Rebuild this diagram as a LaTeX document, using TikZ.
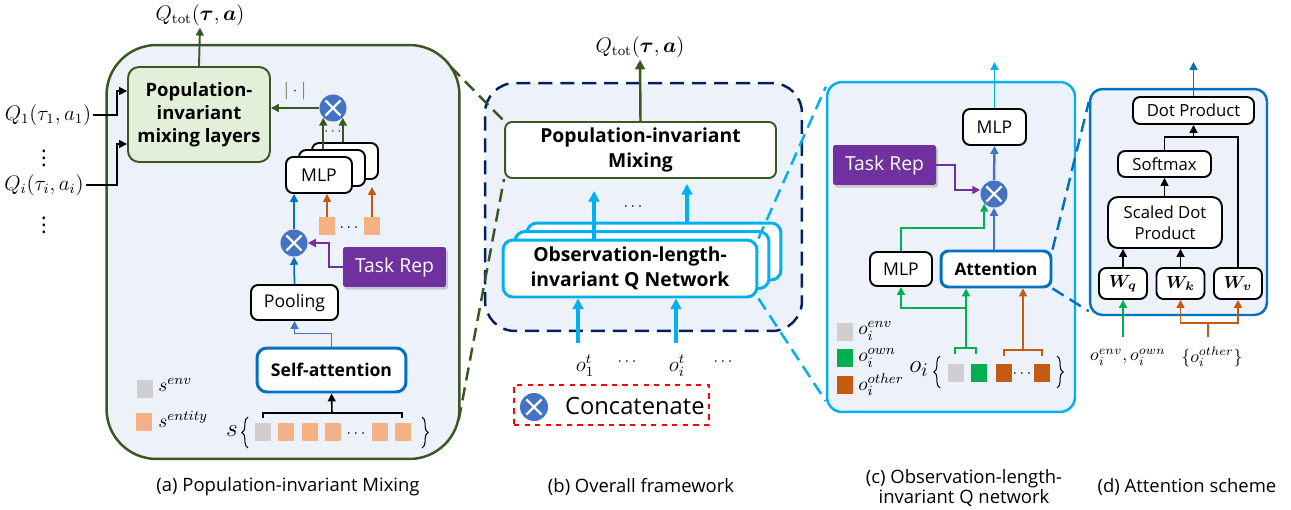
\documentclass[tikz,border=0pt]{standalone}
\usepackage[no-math]{fontspec}
\setmainfont{Open Sans}
\usepackage{bm}
\usetikzlibrary{arrows.meta,shadows,decorations.pathreplacing}
\definecolor{panelbg}{RGB}{237,241,249}
\definecolor{mixgreen}{RGB}{56,87,35}
\definecolor{mixfill}{RGB}{226,240,217}
\definecolor{navy}{RGB}{0,32,96}
\definecolor{cyanline}{RGB}{0,176,240}
\definecolor{deepblue}{RGB}{0,112,192}
\definecolor{catblue}{RGB}{68,114,196}
\definecolor{taskpurple}{RGB}{112,48,160}
\definecolor{paleorange}{RGB}{244,177,131}
\definecolor{darkorange}{RGB}{197,90,17}
\definecolor{envgray}{RGB}{208,206,206}
\definecolor{owngreen}{RGB}{0,176,80}
\tikzset{
  panel/.style={line width=1.4pt, fill=panelbg},
  box/.style={draw=black, line width=1.1pt, rounded corners=4pt, fill=white, align=center, inner sep=0pt},
  box-bold/.style={box, font=\bfseries\fontsize{10.5}{13}\selectfont},
  qnet-box/.style={box, draw=cyanline, line width=1.7pt, rounded corners=0.2cm, minimum width=5.08cm, minimum height=1.14cm},
  cat-node/.style={circle, fill=catblue, minimum size=0.54cm, inner sep=0pt,
    path picture={
      \draw[white, line width=1.3pt]
        ([shift={(-4.3pt,-4.3pt)}]path picture bounding box.center) -- ([shift={(4.3pt,4.3pt)}]path picture bounding box.center)
        ([shift={(-4.3pt,4.3pt)}]path picture bounding box.center) -- ([shift={(4.3pt,-4.3pt)}]path picture bounding box.center);
    }},
  task-node/.style={fill=taskpurple, text=white, minimum width=2.06cm, minimum height=0.8cm, rounded corners=1pt,
    font=\fontsize{11}{13}\selectfont, drop shadow={shadow xshift=1pt, shadow yshift=-1.5pt, opacity=0.35}},
  sq/.style={minimum width=0.32cm, minimum height=0.36cm, inner sep=0pt},
  lbl/.style={inner sep=1pt},
  legend-lbl/.style={lbl, anchor=west, inner sep=0pt, font=\fontsize{11}{13}\selectfont},
  arrow-tip/.style={-{Triangle[length=4.5pt,width=4.5pt]}},
  line-black/.style={draw=black, line width=0.9pt},
  arr-black/.style={arrow-tip, line-black},
  arr-green/.style={arrow-tip, draw=mixgreen, line width=1.1pt},
  arr-green-thick/.style={-{Triangle[length=5.5pt,width=5.5pt]}, draw=mixgreen, line width=1.4pt},
  line-orange/.style={draw=darkorange, line width=0.9pt},
  arr-orange/.style={arrow-tip, line-orange},
  arr-blue/.style={arrow-tip, draw=deepblue, line width=1pt},
  arr-blue-thin/.style={arrow-tip, draw=catblue, line width=1pt},
  arr-purple/.style={arrow-tip, draw=taskpurple, line width=1.1pt},
  arr-cyan/.style={-{Triangle[length=6pt,width=6pt]}, draw=cyanline, line width=2pt},
  arr-cyan-thin/.style={arrow-tip, draw=cyanline, line width=1.1pt},
  arr-catblue/.style={arrow-tip, draw=catblue, line width=1.4pt},
  arr-own/.style={arrow-tip, draw=owngreen, line width=0.9pt},
  zoom-line/.style={line width=1.4pt, dash pattern=on 7.5pt off 4pt},
  brace-line/.style={decorate, decoration={brace, amplitude=3.5pt}, line width=0.6pt},
  cap-text/.style={font=\fontsize{10.5}{11.5}\selectfont, align=center}
}

\begin{document}
\begin{tikzpicture}[x=0.02cm, y=-0.02cm, font=\fontsize{10}{12}\selectfont]
  \useasboundingbox (0,0) rectangle (1291,510);
  % Panel frames
  \node[panel, draw=mixgreen, rounded corners=1cm, minimum width=7.06cm, minimum height=8.28cm] (frame-a) at (283,252) {};
  \node[panel, draw=navy, dash pattern=on 8pt off 4.5pt, rounded corners=0.6cm, minimum width=6.34cm, minimum height=4.96cm] (frame-b) at (643.5,207) {};
  \node[panel, draw=cyanline, rounded corners=0.3cm, minimum width=4.96cm, minimum height=6.6cm] (frame-c) at (951,247) {};
  \node[panel, draw=deepblue, rounded corners=0.25cm, minimum width=3.54cm, minimum height=4.52cm] (frame-d) at (1178.5,202) {};

  % (a) Population-invariant mixing
  \node[box-bold, draw=mixgreen, fill=mixfill, rounded corners=0.22cm, minimum width=2.84cm, minimum height=1.9cm] (mix-a) at (199,114.5) {Population-\\invariant\\mixing layers};
  \node[lbl, font=\large] (qtot-a) at (200,15) {$Q_{\mathrm{tot}}(\bm{\tau},\bm{a})$};
  \draw[arr-green] (mix-a.north) -- (qtot-a.south);
  \node[lbl, font=\large] (q1-a) at (48,115) {$Q_1(\tau_1,a_1)$};
  \node[lbl, font=\large] (qi-a) at (44,185) {$Q_i(\tau_i,a_i)$};
  \node[lbl, font=\large] (vdots-a1) at (44,153) {$\vdots$};
  \node[lbl, font=\large] (vdots-a2) at (44,220) {$\vdots$};
  \coordinate (bend-a) at (117,0);
  \draw[arr-black] (q1-a.east) -- (q1-a.east -| bend-a) |- ([shift={(0,-23.5)}]mix-a.west);
  \draw[arr-black] (qi-a.east) -- (qi-a.east -| bend-a) |- ([shift={(0,29.5)}]mix-a.west);
  \node[cat-node] (cat-a1) at (333,108) {};
  \draw[arr-green] (cat-a1.west) -- (cat-a1.west -| mix-a.east) node[midway, above=1pt, text=mixgreen] {$|\cdot|$};
  % MLP stack
  \foreach \k in {2,1} {
    \node[box, minimum width=1.32cm, minimum height=0.72cm] (mlp-a-\k) at ([shift={(13*\k,-7*\k)}]319,175) {};
  }
  \node[box, minimum width=1.32cm, minimum height=0.72cm] (mlp-a) at (319,175) {MLP};
  \draw[arr-green] (cat-a1.south west |- mlp-a-1.north) -- (cat-a1.south west);
  \draw[arr-green] (cat-a1.south east |- mlp-a-2.north) -- (cat-a1.south east);
  \node[lbl, font=\scriptsize] (dots-a1) at (333,132) {$\cdots$};
  \node[sq, fill=paleorange] (ent-a1) at (327,226) {};
  \node[sq, fill=paleorange] (ent-a2) at (372,226) {};
  \node[lbl, font=\small] (dots-a2) at (349,228) {$\cdots$};
  \draw[arr-orange] (ent-a1.north) -- (ent-a1.north |- mlp-a.south);
  \draw[arr-orange] (ent-a2.north) -- (ent-a2.north |- mlp-a-1.south);
  \node[cat-node] (cat-a2) at (294,243) {};
  \draw[arr-blue] (cat-a2.north) -- (cat-a2.north |- mlp-a.south);
  \node[task-node] (task-a) at (394.5,267) {Task Rep};
  \draw[arr-purple] (task-a.west) -- ++(-14,0) |- (cat-a2.east);
  \node[box, minimum width=1.74cm, minimum height=0.7cm] (pool-a) at (294.5,302.5) {Pooling};
  \draw[arr-blue] (pool-a.north) -- (cat-a2.south);
  \node[box-bold, draw=deepblue, line width=1.7pt, rounded corners=0.2cm, minimum width=2.98cm, minimum height=0.88cm, font=\bfseries\fontsize{10}{12}\selectfont] (att-a) at (331.5,370) {Self-attention};
  \draw[arr-blue-thin] (att-a.north) -- ++(0,-13) -| (pool-a.south);
  % Entity row
  \coordinate (brace-a) at (332,413);
  \draw[line width=0.6pt] (263,418) -- (263,413) -- (402,413) -- (402,418);
  \draw[arr-black] (brace-a) -- (att-a.south);
  \node[sq, fill=envgray] (row-a0) at (263,432) {};
  \foreach \x [count=\n] in {286,310,333,380,403} {
    \node[sq, fill=paleorange] (row-a\n) at (\x,432) {};
  }
  \node[lbl, font=\small] (dots-a3) at (356,434) {$\cdots$};
  \node[lbl, font=\Large] (s-a) at (232,431) {$s$};
  \draw[brace-line] (248,448) -- (248,417);
  \draw[brace-line] (422,417) -- (422,448);
  % Legend
  \node[sq, fill=envgray] (env-a) at (145,389) {};
  \node[legend-lbl] (env-a-lbl) at (158,385) {$s^{env}$};
  \node[sq, fill=paleorange] (ent-a) at (144,422) {};
  \node[legend-lbl] (ent-a-lbl) at (158,419) {$s^{entity}$};
  \node[cap-text] (cap-a) at (288,487) {(a) Population-invariant Mixing};

  % (b) Overall framework
  \node[box-bold, draw=mixgreen, minimum width=5.42cm, minimum height=1.12cm, font=\bfseries\fontsize{11}{14}\selectfont] (mix-b) at (640.5,150) {Population-invariant\\Mixing};
  \node[lbl, font=\large] (qtot-b) at (640,47) {$Q_{\mathrm{tot}}(\bm{\tau},\bm{a})$};
  \draw[arr-green-thick] (mix-b.north) -- (qtot-b.south);
  \foreach \k in {2,1} {
    \node[qnet-box] (qnet-b-\k) at ([shift={(12*\k,-8.5*\k)}]630,268.5) {};
  }
  \node[qnet-box, font=\bfseries\fontsize{11}{14}\selectfont] (qnet-b) at (630,268.5) {Observation-length-\\invariant Q Network};
  \coordinate (up-b1) at (594,0);
  \coordinate (up-b2) at (687,0);
  \draw[arr-cyan, shorten >=0.24cm] (up-b1 |- qnet-b.north) -- (up-b1 |- mix-b.south);
  \draw[arr-cyan, shorten >=0.1cm] (up-b2 |- qnet-b-2.north) -- (up-b2 |- mix-b.south);
  \node[lbl, font=\small] (dots-b1) at (633,207) {$\cdots$};
  \node[lbl, font=\large] (o1-b) at (585,366) {$o_1^t$};
  \node[lbl, font=\small] (dots-b2) at (627,362) {$\cdots$};
  \node[lbl, font=\large] (oi-b) at (677,366) {$o_i^t$};
  \node[lbl, font=\small] (dots-b3) at (723,362) {$\cdots$};
  \coordinate (in-b1) at (578,343);
  \coordinate (in-b2) at (676,343);
  \draw[arr-cyan] (in-b1) -- (in-b1 |- qnet-b.south);
  \draw[arr-cyan] (in-b2) -- (in-b2 |- qnet-b.south);
  % Legend
  \node[draw=red, dashed, line width=0.8pt, minimum width=3.9cm, minimum height=0.8cm] (legend-b) at (611.5,405) {};
  \node[cat-node, minimum size=0.56cm] (cat-b) at (534,407) {};
  \node[lbl, anchor=west, font=\fontsize{13.5}{16}\selectfont] (cat-b-lbl) at (563,406) {Concatenate};
  \node[cap-text] (cap-b) at (641,487) {(b) Overall framework};

  % (c) Observation-length-invariant Q network
  \node[box, minimum width=1.26cm, minimum height=0.72cm] (mlp-c1) at (994.5,127) {MLP};
  \coordinate (out-c) at (994.5,62);
  \draw[arr-cyan-thin] (mlp-c1.north) -- (out-c);
  \node[cat-node] (cat-c) at (994,194) {};
  \draw[arr-catblue] (cat-c.north) -- (mlp-c1.south);
  \node[task-node] (task-c) at (884.5,165) {Task Rep};
  \draw[arr-purple] (task-c.east) -- ++(19,0) |- ([shift={(0,-4)}]cat-c.west);
  \node[box, minimum width=1.24cm, minimum height=0.68cm] (mlp-c2) at (901,269) {MLP};
  \node[box-bold, draw=deepblue, line width=1.7pt, rounded corners=0.15cm, minimum width=2.2cm, minimum height=0.72cm, font=\bfseries\fontsize{9.8}{12}\selectfont] (att-c) at (996,269) {Attention};
  \draw[arr-own] (mlp-c2.north) -- ++(0,-23) -| (cat-c.south west);
  \draw[arr-catblue] (cat-c.south |- att-c.north) -- (cat-c.south);
  \draw[line width=0.6pt, draw=owngreen] (955,354) -- (955,348) -- (976,348) -- (976,354);
  \draw[line width=0.6pt, draw=darkorange] (1004,356) -- (1004,350) -- (1042,350) -- (1042,356);
  \coordinate (own-c) at (966,348);
  \coordinate (oth-c) at (1023,350);
  \draw[arr-own] (own-c) -- ++(0,-40) -| (mlp-c2.south);
  \draw[arr-own] (own-c) -- (own-c |- att-c.south);
  \draw[arr-orange] (oth-c) -- (oth-c |- att-c.south);
  \node[sq, fill=envgray] (row-c1) at (956,372.5) {};
  \node[sq, fill=owngreen] (row-c2) at (979,372.5) {};
  \node[sq, fill=darkorange] (row-c3) at (1004,372.5) {};
  \node[lbl, font=\small] (dots-c) at (1022,374) {$\cdots$};
  \node[sq, fill=darkorange] (row-c4) at (1042,372.5) {};
  \node[lbl, font=\fontsize{15}{18}\selectfont] (oi-c) at (919,369) {$o_i$};
  \draw[brace-line] (940,388) -- (940,356);
  \draw[brace-line] (1057,356) -- (1057,388);
  % Legend
  \node[sq, fill=envgray] (env-c) at (845,332) {};
  \node[legend-lbl] (env-c-lbl) at (858,331) {$o_i^{env}$};
  \node[sq, fill=owngreen] (own-c-sq) at (845,358) {};
  \node[legend-lbl] (own-c-lbl) at (858,358) {$o_i^{own}$};
  \node[sq, fill=darkorange] (oth-c-sq) at (845,385) {};
  \node[legend-lbl] (oth-c-lbl) at (858,385) {$o_i^{other}$};
  \node[cap-text] (cap-c) at (964,488) {(c) Observation-length-\\invariant Q network};

  % (d) Attention scheme
  \node[box, font=\fontsize{9.5}{12}\selectfont, minimum width=2.42cm, minimum height=0.54cm] (dot-d) at (1193.5,110.5) {Dot Product};
  \node[box, font=\fontsize{9.5}{12}\selectfont, minimum width=1.86cm, minimum height=0.52cm] (soft-d) at (1164.5,164) {Softmax};
  \node[box, font=\fontsize{9.5}{12}\selectfont, rounded corners=0.2cm, minimum width=2.28cm, minimum height=1.02cm] (scaled-d) at (1165,222.5) {Scaled Dot\\Product};
  \foreach \nm/\x/\sub in {wq/1123/q, wk/1180.5/k, wv/1238/v} {
    \node[box, minimum width=0.96cm, minimum height=0.62cm] (\nm-d) at (\x,283.5) {$\bm{W_{\sub}}$};
  }
  \coordinate (out-d) at (1193.5,62);
  \draw[arr-blue] (dot-d.north) -- (out-d);
  \draw[arr-black] (wq-d.north) -- (wq-d.north |- scaled-d.south);
  \draw[arr-black] (wk-d.north) -- (wk-d.north |- scaled-d.south);
  \draw[arr-black] (soft-d.south |- scaled-d.north) -- (soft-d.south);
  \coordinate (join-d) at (1193.5,137);
  \draw[line-black] (soft-d.north) |- (join-d);
  \draw[line-black] (wv-d.north) |- (join-d);
  \draw[arr-black] (join-d) -- (dot-d.south);
  \node[lbl] (own-d) at (1128,357) {$o_i^{env}, o_i^{own}$};
  \node[lbl] (oth-d) at (1212,357) {$\{o_i^{other}\}$};
  \coordinate (in-d1) at (1123,337);
  \coordinate (split-d) at (1208,323);
  \draw[arr-own] (in-d1) -- (wq-d.south);
  \draw[line-orange] (split-d |- in-d1) -- (split-d);
  \draw[arr-orange] (split-d) -| (wk-d.south);
  \draw[arr-orange] (split-d) -| (wv-d.south);
  \node[cap-text] (cap-d) at (1187,487) {(d) Attention scheme};

  % Zoom connectors
  \draw[zoom-line, draw=mixgreen] ([shift={(-10,23)}]frame-a.north east) -- (mix-b.north west);
  \draw[zoom-line, draw=mixgreen] ([shift={(-2,-40)}]frame-a.south east) -- (mix-b.south west);
  \draw[zoom-line, draw=cyanline] (qnet-b.north east) -- ([shift={(0,6)}]frame-c.north west);
  \draw[zoom-line, draw=cyanline] (qnet-b.south east) -- ([shift={(0,-12)}]frame-c.south west);
  \draw[zoom-line, draw=deepblue] (att-c.north east) -- ([shift={(0,14)}]frame-d.north west);
  \draw[zoom-line, draw=deepblue] (att-c.south east) -- ([shift={(0,-5)}]frame-d.south west);
\end{tikzpicture}
\end{document}
